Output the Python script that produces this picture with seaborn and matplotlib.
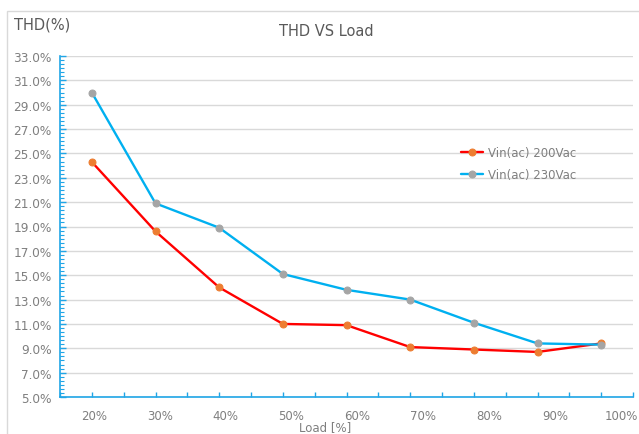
import matplotlib
matplotlib.use('Agg')
import matplotlib.pyplot as plt
import seaborn as sns
import numpy as np
from matplotlib.ticker import FixedLocator, AutoMinorLocator, FuncFormatter
from matplotlib.patches import Rectangle

# data
load_labels = ['20%', '30%', '40%', '50%', '60%', '70%', '80%', '90%', '100%']
thd_200vac = [24.3, 18.6, 14.0, 11.0, 10.9, 9.1, 8.9, 8.7, 9.4]
thd_230vac = [30.0, 20.9, 18.9, 15.1, 13.8, 13.0, 11.1, 9.4, 9.3]
series_names = ['Vin(ac) 200Vac', 'Vin(ac) 230Vac']

sns.set_theme(style='white')
plt.rcParams['font.family'] = ['DejaVu Sans']

axis_blue = '#1fa5e6'
text_grey = '#7f7f7f'

fig = plt.figure(figsize=(6.39, 4.35), dpi=100)
ax = fig.add_axes([60 / 639, 1 - 398 / 435, (633 - 60) / 639, (398 - 57) / 435])

x = np.arange(len(load_labels))
sns.lineplot(x=x, y=thd_200vac, ax=ax, color='#ff0000', lw=1.7, marker='o', markersize=5,
             markerfacecolor='#ed7d31', markeredgecolor='#ed7d31', label=series_names[0])
sns.lineplot(x=x, y=thd_230vac, ax=ax, color='#00b0f0', lw=1.7, marker='o', markersize=5,
             markerfacecolor='#a5a5a5', markeredgecolor='#a5a5a5', label=series_names[1])

ax.set_xlim(-0.5, len(load_labels) - 0.5)
ax.set_ylim(5, 33)
ax.set_xlabel('')
ax.set_ylabel('')

# y axis: ticks every 2%, minor ticks inside
ax.yaxis.set_major_locator(FixedLocator(np.arange(5, 34, 2)))
ax.yaxis.set_minor_locator(AutoMinorLocator(6))
ax.yaxis.set_major_formatter(FuncFormatter(lambda v, p: f'{v:.1f}%'))
ax.tick_params(axis='y', which='major', direction='in', length=4, width=1, color=axis_blue,
               labelsize=8.7, labelcolor=text_grey, pad=6, left=True)
ax.tick_params(axis='y', which='minor', direction='in', length=3, width=0.8, color=axis_blue, left=True)

# x axis: labels drift slightly right of the points as in the original
ax.set_xticks(x * 1.035 + 0.03)
ax.set_xticklabels(load_labels)
ax.xaxis.set_minor_locator(FixedLocator(np.arange(-0.5, len(load_labels), 0.5)))
ax.tick_params(axis='x', which='major', length=0, labelsize=8.5, labelcolor=text_grey, pad=9)
ax.tick_params(axis='x', which='minor', direction='in', length=3.5, width=1, color=axis_blue, bottom=True)

ax.grid(True, axis='y', color='#d9d9d9', lw=1)
ax.grid(False, axis='x')
for side in ['top', 'right']:
    ax.spines[side].set_visible(False)
for side in ['left', 'bottom']:
    ax.spines[side].set_color(axis_blue)
    ax.spines[side].set_linewidth(1.2)

leg = ax.legend(loc='upper left', bbox_to_anchor=(455 / 639, 1 - 141 / 435),
                bbox_transform=fig.transFigure, frameon=False, fontsize=8.5,
                handlelength=1.9, handletextpad=0.4, labelspacing=0.75, borderpad=0)
for t in leg.get_texts():
    t.set_color(text_grey)

fig.text(326 / 639, 1 - 31 / 435, 'THD VS Load', ha='center', va='center', fontsize=10.5, color='#595959')
fig.text(14 / 639, 1 - 25 / 435, 'THD(%)', ha='left', va='center', fontsize=10.5, color='#595959')
fig.text(325 / 639, 1 / 435, 'Load [%]', ha='center', va='bottom', fontsize=8.5, color=text_grey)

# light outer frame of the chart area
fig.patches.append(Rectangle((7 / 639, -0.1), 1.2, 1.1 - 12 / 435, transform=fig.transFigure,
                             fill=False, edgecolor='#d9d9d9', lw=1))

fig.savefig('out.png', dpi=100)
plt.close(fig)
